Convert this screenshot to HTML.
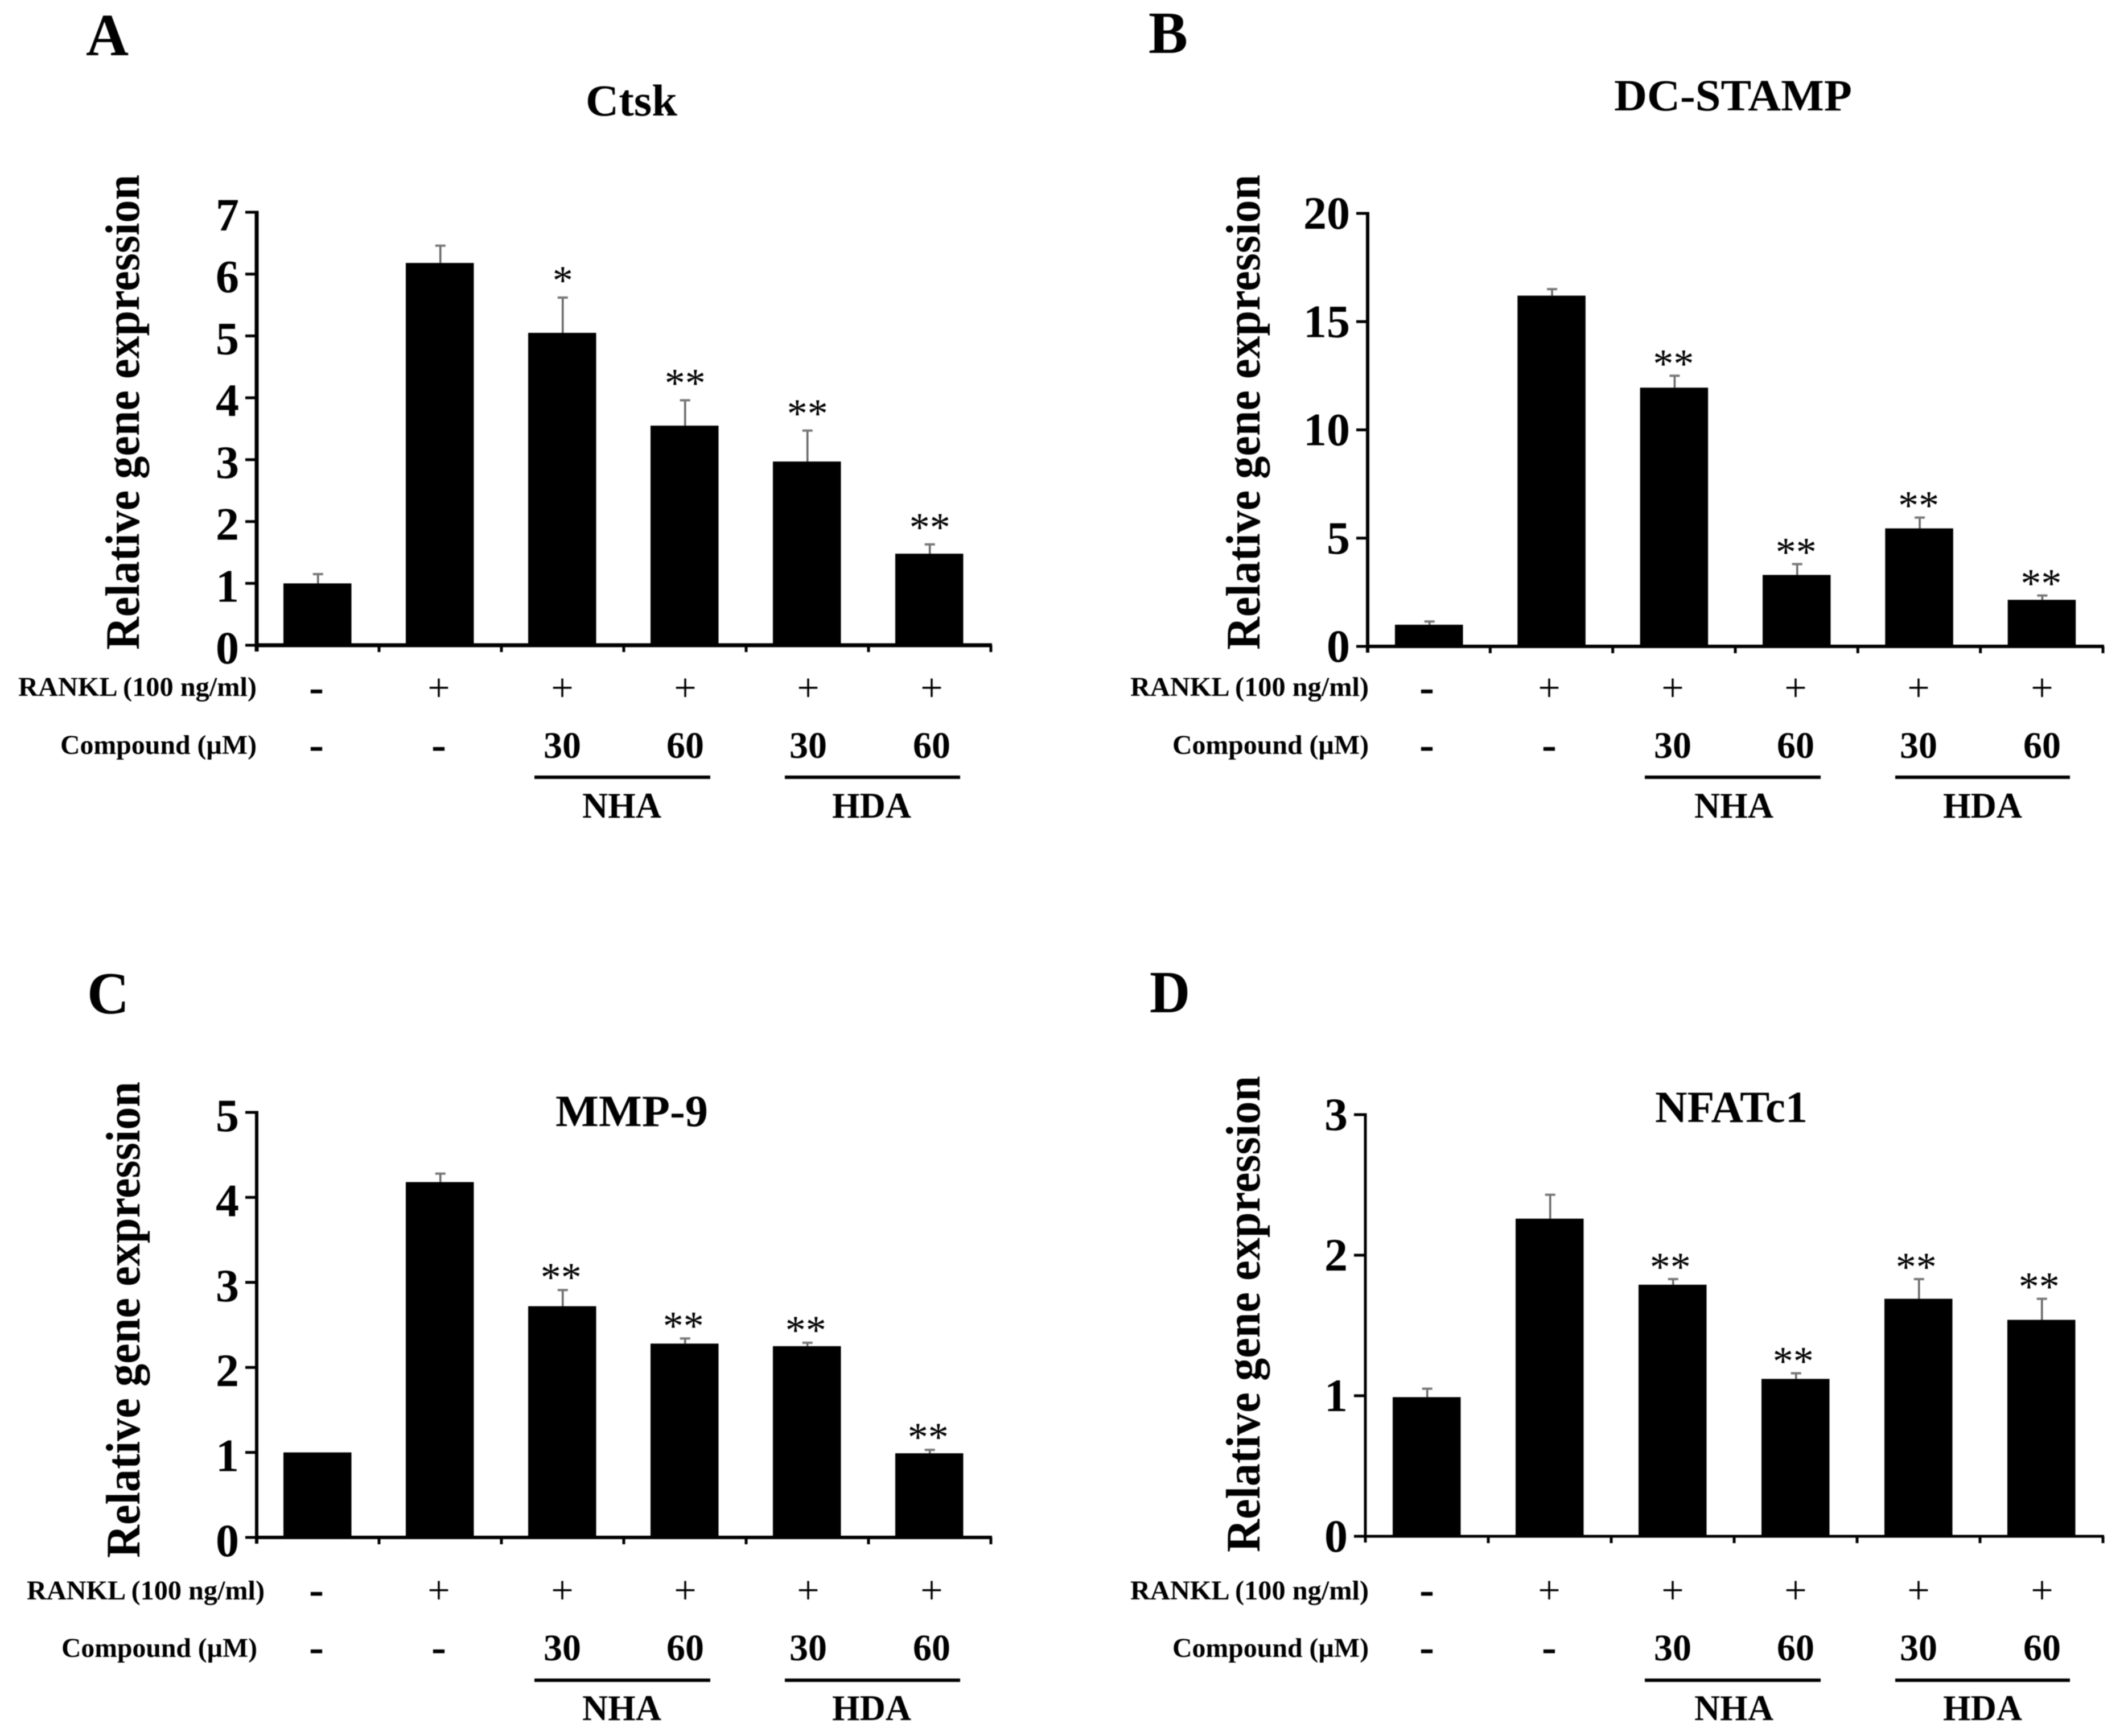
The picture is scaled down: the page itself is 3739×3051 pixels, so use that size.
<!DOCTYPE html>
<html lang="en">
<head>
<meta charset="utf-8">
<title>Relative gene expression panels</title>
<style>
html,body{margin:0;padding:0;background:#fff;}
svg{display:block;filter:blur(0.8px);}
text{font-family:"Liberation Serif",serif;fill:#000;}
.letter{font-size:105px;font-weight:bold;}
.title{font-size:78px;font-weight:bold;}
.ylab{font-size:85px;font-weight:bold;}
.row{font-size:48px;font-weight:bold;}
.grp{font-size:64px;font-weight:bold;}
</style>
</head>
<body>
<svg id="figure" xmlns="http://www.w3.org/2000/svg" width="3739" height="3051" viewBox="0 0 3739 3051">
  <rect x="0" y="0" width="3739" height="3051" fill="#fff"/>

  <text class="letter" x="151" y="97" textLength="75" lengthAdjust="spacingAndGlyphs">A</text>
  <text class="letter" x="2018" y="93" textLength="69" lengthAdjust="spacingAndGlyphs">B</text>
  <text class="letter" x="153" y="1781" textLength="74" lengthAdjust="spacingAndGlyphs">C</text>
  <text class="letter" x="2020" y="1779" textLength="71" lengthAdjust="spacingAndGlyphs">D</text>

  <text class="title" x="1029" y="203" textLength="161" lengthAdjust="spacingAndGlyphs">Ctsk</text>
  <text class="title" x="2836" y="194" textLength="418" lengthAdjust="spacingAndGlyphs">DC-STAMP</text>
  <text class="title" x="976" y="1979" textLength="268" lengthAdjust="spacingAndGlyphs">MMP-9</text>
  <text class="title" x="2908" y="1972" textLength="268" lengthAdjust="spacingAndGlyphs">NFATc1</text>

  <text class="ylab" transform="translate(244,1142) rotate(-90)" textLength="835" lengthAdjust="spacingAndGlyphs">Relative gene expression</text>
  <text class="ylab" transform="translate(2213,1142) rotate(-90)" textLength="835" lengthAdjust="spacingAndGlyphs">Relative gene expression</text>
  <text class="ylab" transform="translate(245,2738) rotate(-90)" textLength="837" lengthAdjust="spacingAndGlyphs">Relative gene expression</text>
  <text class="ylab" transform="translate(2213,2728) rotate(-90)" textLength="837" lengthAdjust="spacingAndGlyphs">Relative gene expression</text>

  <text class="row" x="32" y="1223" textLength="419" lengthAdjust="spacingAndGlyphs">RANKL (100 ng/ml)</text>
  <text class="row" x="106" y="1325" textLength="345" lengthAdjust="spacingAndGlyphs">Compound (µM)</text>
  <text class="row" x="1986" y="1223" textLength="419" lengthAdjust="spacingAndGlyphs">RANKL (100 ng/ml)</text>
  <text class="row" x="2060" y="1325" textLength="345" lengthAdjust="spacingAndGlyphs">Compound (µM)</text>
  <text class="row" x="47" y="2811" textLength="418" lengthAdjust="spacingAndGlyphs">RANKL (100 ng/ml)</text>
  <text class="row" x="108" y="2912" textLength="344" lengthAdjust="spacingAndGlyphs">Compound (µM)</text>
  <text class="row" x="1986" y="2811" textLength="419" lengthAdjust="spacingAndGlyphs">RANKL (100 ng/ml)</text>
  <text class="row" x="2060" y="2912" textLength="345" lengthAdjust="spacingAndGlyphs">Compound (µM)</text>

  <rect x="939" y="1363" width="309" height="6" fill="#000"/>
  <rect x="1379" y="1363" width="308" height="6" fill="#000"/>
  <text class="grp" x="1023" y="1437" textLength="139" lengthAdjust="spacingAndGlyphs">NHA</text>
  <text class="grp" x="1462" y="1437" textLength="139" lengthAdjust="spacingAndGlyphs">HDA</text>

  <rect x="2890" y="1363" width="309" height="6" fill="#000"/>
  <rect x="3330" y="1363" width="307" height="6" fill="#000"/>
  <text class="grp" x="2977" y="1437" textLength="139" lengthAdjust="spacingAndGlyphs">NHA</text>
  <text class="grp" x="3414" y="1437" textLength="139" lengthAdjust="spacingAndGlyphs">HDA</text>

  <rect x="939" y="2950" width="309" height="6" fill="#000"/>
  <rect x="1379" y="2950" width="308" height="6" fill="#000"/>
  <text class="grp" x="1023" y="3023" textLength="139" lengthAdjust="spacingAndGlyphs">NHA</text>
  <text class="grp" x="1462" y="3023" textLength="139" lengthAdjust="spacingAndGlyphs">HDA</text>

  <rect x="2890" y="2950" width="309" height="6" fill="#000"/>
  <rect x="3330" y="2950" width="307" height="6" fill="#000"/>
  <text class="grp" x="2977" y="3023" textLength="139" lengthAdjust="spacingAndGlyphs">NHA</text>
  <text class="grp" x="3414" y="3023" textLength="139" lengthAdjust="spacingAndGlyphs">HDA</text>
</svg>

<script>
const categories = ['control', 'rankl', 'nha-30', 'nha-60', 'hda-30', 'hda-60'];
const ranklRow = ['-', '+', '+', '+', '+', '+'];
const compoundRow = ['-', '-', '30', '60', '30', '60'];

const ctskValues = [1.0, 6.18, 5.05, 3.55, 2.97, 1.48];
const ctskErrors = [0.15, 0.28, 0.57, 0.41, 0.50, 0.15];
const ctskTicks = [0, 1, 2, 3, 4, 5, 6, 7];
const ctskSignificance = ['', '', '*', '**', '**', '**'];

const dcStampValues = [1.0, 16.2, 11.95, 3.3, 5.45, 2.15];
const dcStampErrors = [0.15, 0.3, 0.55, 0.5, 0.5, 0.2];
const dcStampTicks = [0, 5, 10, 15, 20];
const dcStampSignificance = ['', '', '**', '**', '**', '**'];

const mmp9Values = [1.0, 4.18, 2.72, 2.28, 2.25, 0.99];
const mmp9Errors = [0, 0.10, 0.19, 0.06, 0.04, 0.04];
const mmp9Ticks = [0, 1, 2, 3, 4, 5];
const mmp9Significance = ['', '', '**', '**', '**', '**'];

const nfatc1Values = [0.99, 2.26, 1.79, 1.12, 1.69, 1.54];
const nfatc1Errors = [0.06, 0.17, 0.04, 0.04, 0.14, 0.15];
const nfatc1Ticks = [0, 1, 2, 3];
const nfatc1Significance = ['', '', '**', '**', '**', '**'];

const panels = [
  { id: 'a', values: ctskValues, errors: ctskErrors, ticks: ctskTicks, sig: ctskSignificance,
    x0: 451, x1: 1741, y0: 1134, yTop: 373, barOffset: 47, rowDx: 0, rowDy: 0,
    starGap: 6, starDx: 0, labelDy: 32, axisWidth: 7 },
  { id: 'b', values: dcStampValues, errors: dcStampErrors, ticks: dcStampTicks, sig: dcStampSignificance,
    x0: 2403, x1: 3695, y0: 1136, yTop: 375, barOffset: 48, rowDx: 1951, rowDy: 0,
    starGap: -3, starDx: -2, labelDy: 27, axisWidth: 6 },
  { id: 'c', values: mmp9Values, errors: mmp9Errors, ticks: mmp9Ticks, sig: mmp9Significance,
    x0: 451, x1: 1741, y0: 2702, yTop: 1955, barOffset: 47, rowDx: 0, rowDy: 1586,
    starGap: -2, starDx: -3, labelDy: 33, axisWidth: 6 },
  { id: 'd', values: nfatc1Values, errors: nfatc1Errors, ticks: nfatc1Ticks, sig: nfatc1Significance,
    x0: 2399, x1: 3695, y0: 2700, yTop: 1959, barOffset: 48, rowDx: 1951, rowDy: 1586,
    starGap: -3, starDx: -5, labelDy: 27, axisWidth: 5 }
];

const NS = 'http://www.w3.org/2000/svg';
const figure = document.getElementById('figure');

function make(parent, tag, attrs, text) {
  const el = document.createElementNS(NS, tag);
  for (const key in attrs) el.setAttribute(key, attrs[key]);
  if (text !== undefined) el.textContent = text;
  parent.appendChild(el);
  return el;
}

function yScale(p, value) {
  const max = p.ticks[p.ticks.length - 1];
  return p.y0 - (value / max) * (p.y0 - p.yTop);
}

function xStep(p) {
  return (p.x1 - p.x0) / categories.length;
}

function barLeft(p, i) {
  return p.x0 + p.barOffset + i * xStep(p);
}

const BAR_WIDTH = 119.5;
const ROW_X = [556, 771, 988, 1204, 1420, 1637];

panels.forEach(function (p) {
  const g = make(figure, 'g', {});
  
  

  categories.forEach(function (cat, i) {
    const left = barLeft(p, i);
    const cx = left + BAR_WIDTH / 2 + 1;
    const top = yScale(p, p.values[i]);
    const errTop = yScale(p, p.values[i] + p.errors[i]);

    if (p.errors[i] > 0) {
      const stem = make(g, 'line', { x1: cx, x2: cx, y1: top, y2: errTop, stroke: '#666', 'stroke-width': 3.5 });
      
      
      const cap = make(g, 'line', { x1: cx - 9, x2: cx + 9, y1: errTop, y2: errTop, stroke: '#777', 'stroke-width': 4 });
      
      
    }

    const bar = make(g, 'rect', { x: left, y: top, width: BAR_WIDTH, height: p.y0 - top, fill: '#000' });
    
    

    if (p.sig[i]) {
      const star = make(g, 'text', { x: cx + p.starDx, y: errTop - p.starGap, 'text-anchor': 'middle', 'font-size': 72 }, p.sig[i]);
      
      
    }

    const rx = ROW_X[i] + p.rowDx;
    const isPlus = ranklRow[i] === '+';
    const r = make(g, 'text', {
      x: rx, y: (isPlus ? 1232 : 1233.5) + p.rowDy, 'text-anchor': 'middle',
      'font-size': isPlus ? 70 : 78, 'font-weight': isPlus ? 'normal' : 'bold'
    }, ranklRow[i]);
    
    

    const isDash = compoundRow[i] === '-';
    const c = make(g, 'text', {
      x: rx, y: (isDash ? 1334.5 : 1332) + p.rowDy, 'text-anchor': 'middle',
      'font-size': isDash ? 78 : 66, 'font-weight': 'bold'
    }, compoundRow[i]);
    
    
  });

  const yAxis = make(g, 'line', { x1: p.x0, x2: p.x0, y1: p.yTop - 2.5, y2: p.y0 + 11, stroke: '#000', 'stroke-width': p.axisWidth });
  
  

  const xAxis = make(g, 'line', { x1: p.x0, x2: p.x1 + 2, y1: p.y0, y2: p.y0, stroke: '#000', 'stroke-width': p.axisWidth });
  
  

  p.ticks.forEach(function (t) {
    const ty = yScale(p, t);
    const mark = make(g, 'line', { x1: p.x0 - 20, x2: p.x0, y1: ty, y2: ty, stroke: '#000', 'stroke-width': 5 });
    
    
    const label = make(g, 'text', { x: p.x0 - 31, y: ty + p.labelDy, 'text-anchor': 'end', 'font-size': 82, 'font-weight': 'bold' }, String(t));
    
    
  });

  for (let i = 1; i <= categories.length; i++) {
    const tx = p.x0 + i * xStep(p);
    const mark = make(g, 'line', { x1: tx, x2: tx, y1: p.y0, y2: p.y0 + 12, stroke: '#000', 'stroke-width': 5 });
    
    
  }
});
</script>
</body>
</html>
